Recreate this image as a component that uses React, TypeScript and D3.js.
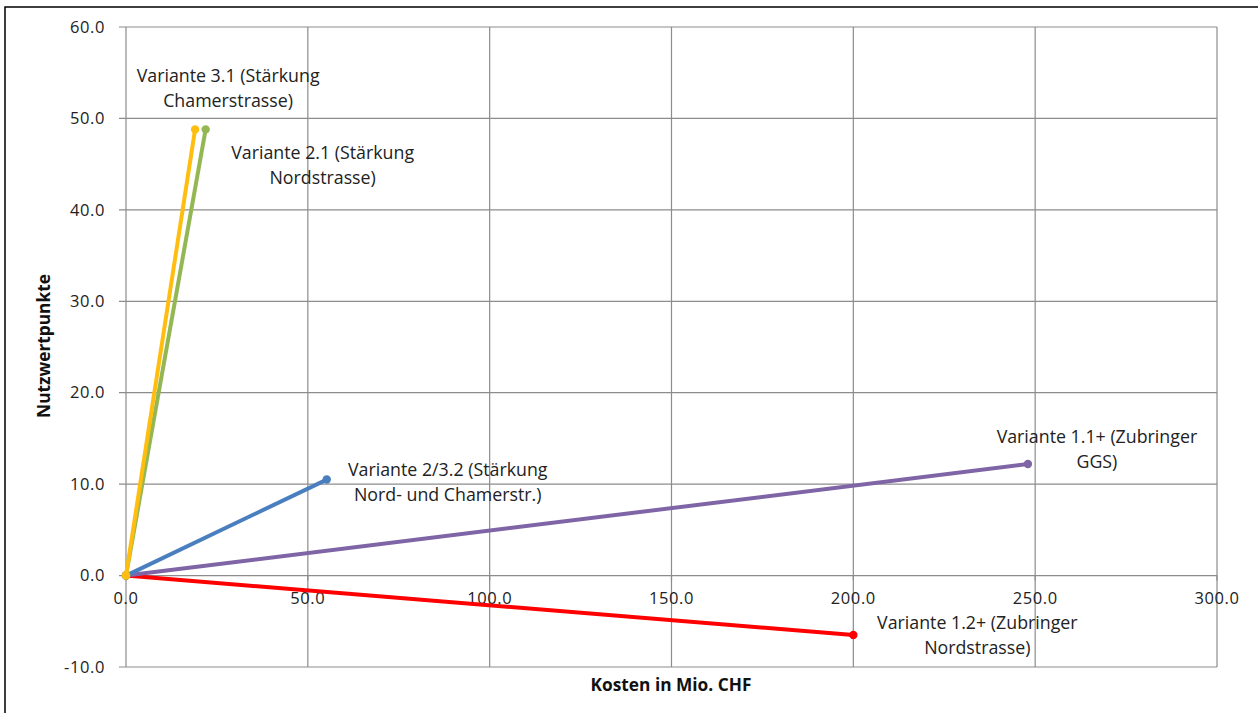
import React from "react";
import * as d3 from "d3";

const xTicks = [0, 50, 100, 150, 200, 250, 300];
const yTicks = [-10, 0, 10, 20, 30, 40, 50, 60];

const seriesNames = ["Variante 1.2+", "Variante 1.1+", "Variante 2/3.2", "Variante 2.1", "Variante 3.1"];
const seriesColors = ["#FF0000", "#7F64A6", "#4A7FBF", "#93B853", "#FFBE0F"];
const costs = [200, 248, 55.2, 21.9, 19.0];
const points = [-6.5, 12.2, 10.5, 48.8, 48.8];
const labelLines = [
  ["Variante 1.2+ (Zubringer", "Nordstrasse)"],
  ["Variante 1.1+ (Zubringer", "GGS)"],
  ["Variante 2/3.2 (Stärkung", "Nord- und Chamerstr.)"],
  ["Variante 2.1 (Stärkung", "Nordstrasse)"],
  ["Variante 3.1 (Stärkung", "Chamerstrasse)"],
];
// label anchor offsets (in px) relative to end point
const labelDx = [124, 69, 121, 117, 33];
const labelDy = [-12, -27, -10, 23, -54];

const W = 1258;
const H = 713;
const left = 126;
const right = 1217;
const top = 27;
const bottom = 667;

export default function App() {
  const x = d3.scaleLinear().domain([0, 300]).range([left, right]);
  const y = d3.scaleLinear().domain([-10, 60]).range([bottom, top]);
  const fmt = (v: number) => d3.format(".1f")(v).replace("\u2212", "-");
  const line = d3
    .line<[number, number]>()
    .x((d) => x(d[0]))
    .y((d) => y(d[1]));
  const font = "'Open Sans', sans-serif";
  const fs = 16.5;
  const lfs = 17.8;
  return (
    <svg
      width={W}
      height={H}
      style={{ position: "absolute", left: 0, top: 0, background: "#fff" }}
      fontFamily={font}
    >
      <rect x={5} y={7} width={W + 10} height={H + 10} fill="#fff" stroke="#000" strokeWidth={1.5} />
      {/* gridlines */}
      {xTicks.map((t) => (
        <line key={"gx" + t} x1={x(t)} x2={x(t)} y1={top} y2={bottom} stroke="#8c8c8c" strokeWidth={1.2} />
      ))}
      {yTicks.map((t) => (
        <line key={"gy" + t} x1={left - 7} x2={right} y1={y(t)} y2={y(t)} stroke="#8c8c8c" strokeWidth={1.2} />
      ))}
      {/* x tick marks at 0 line */}
      {xTicks.map((t) => (
        <line key={"tx" + t} x1={x(t)} x2={x(t)} y1={y(0)} y2={y(0) + 5} stroke="#8c8c8c" strokeWidth={1.2} />
      ))}
      {/* y tick labels */}
      {yTicks.map((t) => (
        <text key={"ly" + t} x={105} y={y(t)} dy="0.35em" textAnchor="end" fontSize={fs} fill="#222" letterSpacing={0.6}>
          {fmt(t)}
        </text>
      ))}
      {/* x tick labels */}
      {xTicks.map((t) => (
        <text key={"lx" + t} x={x(t)} y={y(0) + 28} textAnchor="middle" fontSize={fs} fill="#222" letterSpacing={0.6}>
          {fmt(t)}
        </text>
      ))}
      {/* series */}
      {seriesNames.map((n, i) => {
        const d: [number, number][] = [
          [0, 0],
          [costs[i], points[i]],
        ];
        return (
          <g key={n}>
            <path d={line(d) || ""} stroke={seriesColors[i]} strokeWidth={4} fill="none" />
            {d.map((p, j) => (
              <circle key={j} cx={x(p[0])} cy={y(p[1])} r={4.2} fill={seriesColors[i]} />
            ))}
          </g>
        );
      })}
      {/* labels */}
      {seriesNames.map((n, i) => {
        const cx = x(costs[i]) + labelDx[i];
        const cy = y(points[i]) + labelDy[i];
        return (
          <g key={"lab" + n} fontSize={lfs} fill="#222" textAnchor="middle">
            <text x={cx} y={cy} dy="0.35em">
              {labelLines[i][0]}
            </text>
            <text x={cx} y={cy + 25} dy="0.35em">
              {labelLines[i][1]}
            </text>
          </g>
        );
      })}
      {/* axis titles */}
      <text x={671} y={685} dy="0.35em" textAnchor="middle" fontSize={17.3} fontWeight="bold" fill="#111">
        Kosten in Mio. CHF
      </text>
      <text
        transform={`translate(44, 346) rotate(-90)`}
        dy="0.35em"
        textAnchor="middle"
        fontSize={17.3}
        fontWeight="bold"
        fill="#111"
      >
        Nutzwertpunkte
      </text>
    </svg>
  );
}
